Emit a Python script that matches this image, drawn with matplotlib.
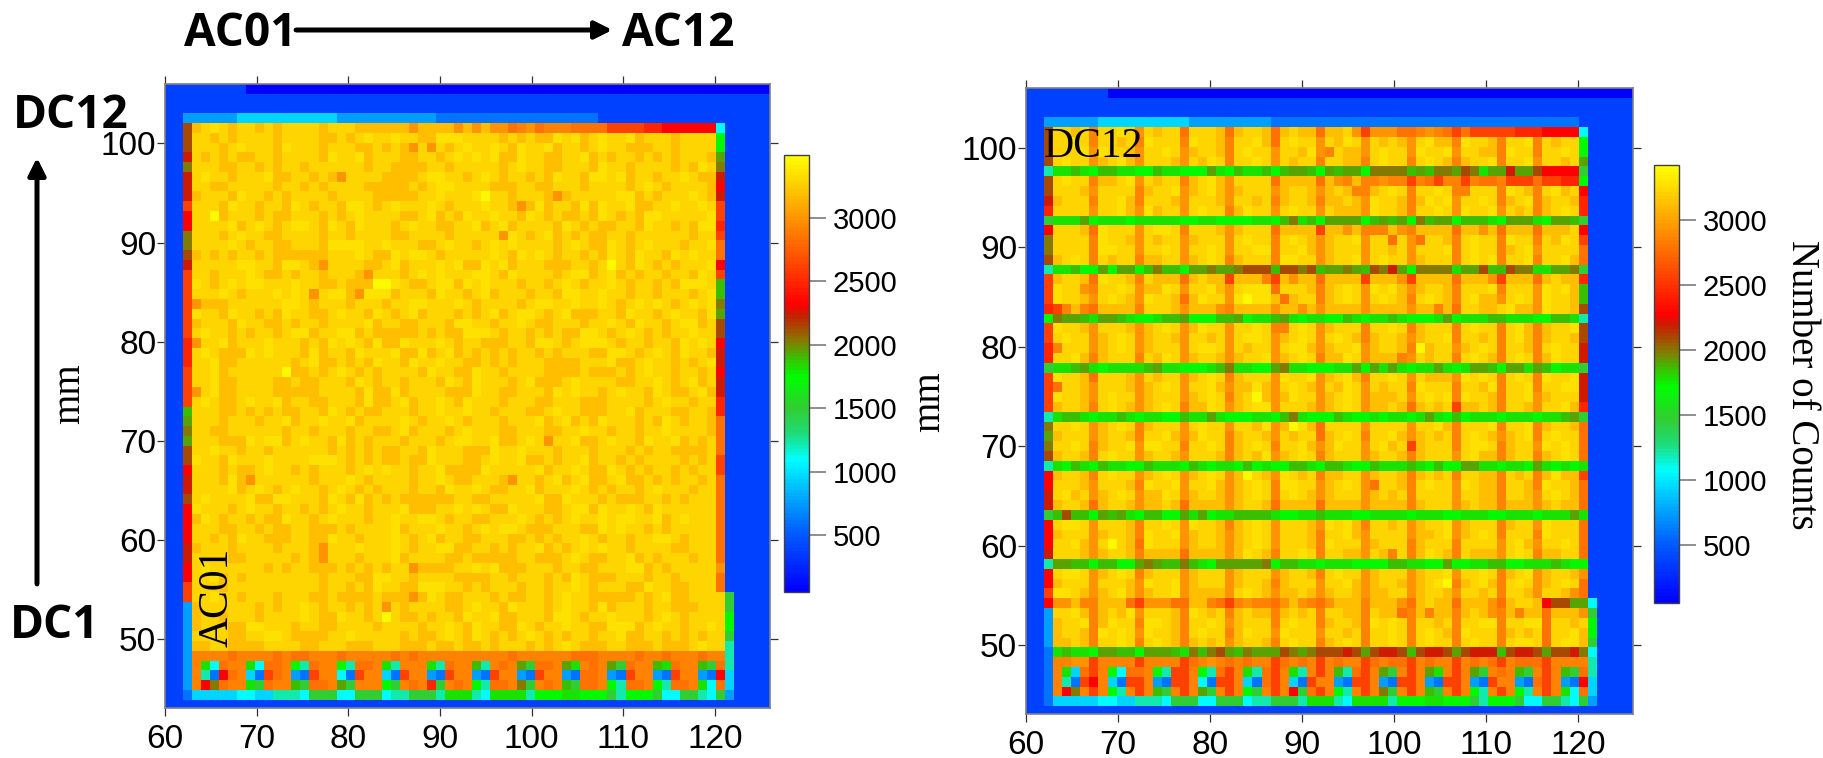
import numpy as np
import matplotlib
matplotlib.use('Agg')
import matplotlib.pyplot as plt
from matplotlib.colors import LinearSegmentedColormap, Normalize
from matplotlib.cm import ScalarMappable

# Colour bar stops (counts, rgb)
stop_counts = [55, 500, 800, 1094, 1300, 1500, 1750, 1900, 2020, 2150, 2240, 2328, 3000, 3496]
stop_colors = [(0, 0, 255), (0, 90, 255), (0, 170, 255), (0, 255, 255), (30, 220, 120), (50, 205, 50),
               (0, 255, 0), (60, 190, 0), (128, 128, 0), (170, 70, 0), (200, 30, 0), (255, 0, 0),
               (255, 147, 0), (255, 255, 0)]

left_vmax = 3496
right_vmax = 3425
cbar_ticks = [500, 1000, 1500, 2000, 2500, 3000]
x_ticks = [60, 70, 80, 90, 100, 110, 120]
y_ticks = [50, 60, 70, 80, 90, 100]

# Each letter in the map rows stands for a count level, estimated by eye from the cell colour
level_codes = ['.', 'a', 'b', 'c', 'd', 'e', 'u', 'f', 'g', 'h', 'i', 'v', 'G', 'j', 'k', 'l', 'm',
               'w', 'n', 'o', 'x', 'p', 'q', 'r', 's', 't']
left_levels = [60, 300, 380, 600, 780, 950, 1094, 1220, 1500, 1750, 1810, 1890, 1960, 2020, 2150, 2240, 2328,
               2475, 2620, 2840, 2920, 2990, 3180, 3285, 3360, 3460]
right_levels = [60, 295, 374, 590, 765, 931, 1072, 1196, 1470, 1715, 1774, 1852, 1921, 1980, 2107, 2195, 2281,
                2425, 2567, 2783, 2861, 2930, 3116, 3219, 3292, 3390]

left_rows = [
    "bbbbbbbbb ..... ..... ..... ..... ..... ..... ..... ..... ..... ..... ...... ..",
    "bb",
    "bb",
    "bb dddddd eeeeeeeeeee ddddddddddd cccccccccccccccccc",
    "bbk qrsrq rrqrq rrrrq rrrqq qqqqp qqqqp qpqpp oxpox xxooo onnnn wwmm mmmm u",
    "bbk rrqrq rrrrq rrrrq qrqrs rrsrr qqsss rrrrq rqrqq srsqr srrsq rrrq rrrr h",
    "bbk rrrqr srrrq srrrq rrrqq rqrqp rprqr srrsr qsrrs qrrqr srrqq qrrq rrrr h",
    "bbl rqrqr qqrrq rrrrq srrsq rrrqq rrqrs rsrsq qsrrq qrrsq rqrrq rqrq rrrq G",
    "bbj rrrqq rrqrq rrqrr rrrrq rrqqq qrrqr rrrrq rsrrq qrrrq srrqr rrrq rqsr j",
    "bbl rsrrq rrrsq qrrqr qprrr rqqqq rssrr qrsrq rrqrq srrqs srsqr rqrr srqq l",
    "bbl rrqqr rrrrq rrqrq rrrrq qqqqr qrssr rrrqq qrrqq rrrqr rrrqr srqr rrrq m",
    "bbl qrrrq srrqr qrrrr qrrrr qqqqq rrsrr rstrr qrrrq pqrrr rrssq rqrr rsrq l",
    "bbn rrrqs rrqrr qsrqr rqssr qrsrr rsrqr rrsrr qpqsq rrqsq srrsq qrrs rrsr n",
    "bbm rrtqr rrqrq qrrrq rqrsr rrrqq rsqrq srrsr rqsrq rqqrq srqrq ssrr rrrs n",
    "bbm rrrrs qrsrq rssrq srqsr rrqrs rrqqr rsqrs qrrrr qsrqr qqrrq srrq rqss w",
    "bbj rrrqr srrqq rrrrq rrqrr rrqqr rrrqr rrrrp srqrs qrqrq qrrqr rrrr rqrr n",
    "bbj rrrrs rqrrq qrrrq ssssr rsrrr qqrsr rqrsr srrrr qrsrq qsrqr srrr qrrs o",
    "bbk qrqrq rrqrq qqqqq rrrsr qqsrs srqrr rrrsr qsrsr qrrqr qsrqs rrqs rsrr o",
    "bbl rrrrr ssrrq ssrqp rrrrq qrsqr rrsrs qqsrs qrrrq qqrrq rtrqs rqrq rrrs m",
    "bbn rrqrr rsrqq rqrrq rrrqp rrrqr srsrr rssrq srrrr qrssq rsqrq rrqr rqsr n",
    "bbn srqrs rssrr rsrrq qrqqq ttsrq qrssq srsrr rqrrq rsrqr rsrqr rqrq sssr v",
    "bbn rrrsr qrrrs rsrpr ssqps ssqrr rqsrr qrsqr rrqrr qssrr srrqr rqrr rqrs v",
    "bbn pqqqr rrrrr ssrqr rrqrr rqrrs srrrs rqrrr rqrss rrsrr srqrs rsrq rsrs j",
    "bbn srrqs rrqrq srrqq rsrrq srqrs qrrrq rqrsq rssrq rsqqq rrqsr rqrs rrqs G",
    "bbn qrrrq srrqq rqrrq rrrrs qrrqq rrrqs srrqr rsrqq rrrqr rsrqs rrqr ssqr k",
    "bbn rsrrq rqrrq rssqr rssqr qqqqq rqrqq sssrq rrqrq rqqss rqrsr qrqr rsrr k",
    "bbw prrsq rrrsr rrqrq srsrq sqqsr rrsrq rrqqq rrqss rqrss srqrr qrrq srsr m",
    "bbw rsrqq qsrsr rrqsq rrqsr rrsqq sqrsq rqrqr qrrqr qrrrq qssrq rsrq srrq l",
    "bbw rrsqq rrrrr rqrsq qrqrq srrqs rrsrr qqrqr qrrrq qqqrr rsqqr srrq rqrs l",
    "bbn rrsqr rrrrr tqqrq rsrqr qrrrr qsrrq qsrrq rrrrq qqqrq qqrqr srrq rrqr m",
    "bbn rrsqq rrrrq qrqqr rrqsr qrrqr rrqsr qsrrr qrsqq qrsrr rrqqr rsrq rsqr l",
    "bbn prsqq rrrrq qqqqr rrrqs qqsqr rrrqq qsrrq qrrrq srsrr qrsrr qsrq qrsq l",
    "bbn rsrqq rsrrs qrrqq rrrqs qqrsq rrsrq srrrq rrrqq rrrqq qrrrr qrsr rqrr w",
    "bbv rrrqq rqrqr qqrrq srqrq qrrrq rrsrr srrqr rrqqr srrqq qrrsq rrrq qrrq w",
    "bbG rrrqr rrqrr sqrrs rrsqr rrrsr qrrsr qrrrq rrrsq rsqrq srrrq rqsr qrrq o",
    "bbj rrqqr rrrrr qrrqr rrqrr qqrsq rrrqr srrrq qrrrq qrrsr rqrrq rrsr rrrq o",
    "bbG rrrqq qsrss qrsrr qsqrq rrrqr rrqrs srrsq qrsrp rrsqq rsrrq srrs qrqr o",
    "bbk rrsrr qrrqr rrrrr qrqrq rqqrr qsrrr qqqsr rsrrr qrrrq rrrqr qrrq qqqr o",
    "bbk srrqs rrrsr rrrss srqrq rqqrq qsrrr qqrsr rsqqr qrrsq rrqrq rrrr qrqr n",
    "bbm rrrqr qqrsr rqrqr rrqrs rsrrq rrsqq qqsrr rrrsq rrsrq qsrqr qrrq rqrr n",
    "bbl rrrqs qprrr rrrqr rrsrq rrrrq rrsrq qrrrq prrqr sqrsq qrsqq rqrq rrqr o",
    "bbl rrrrs qrsrq rsrrq rsrqr qrrrq rrqsr rsrqq rrsqr rrsrq rqrrq rsrr rqrr o",
    "bbk rsrrr rsqqs srrrq srqsq rqrqq qqqqr rqqrr rrrsq qsrrr qrqqq rrqr qrrr o",
    "bbm srrrq rsrrq rrqrq rsrrq rrrsq qqrrs rsrqq srrrq qrssq srrsr qsrr rrrr o",
    "bbm qsrqr rqrqq srrqr srrrq rrsrr ssrqr rqqrr rsrqr qrsrr srssr rsqr srrr o",
    "bbm rrrqq rrqrq qrrqq qrqrr rrsqr rrsrr qrsrs srqqq rrrqq srsrr qrqr rrrr o",
    "bbm rrqrq srrqq qrrqq srrqr rrsrq rsqrr qqrrr qqrqr qrrsr qrrqr rssr qrrr o",
    "bbl qrrrq rrrrq rrrqp rrrsr rrsrq rrssq qrrqr qrrsq rqrsr srrqr rrrq qrrr o",
    "bbl rrrrq qrrrr rqrqp rrrqr rrsqr rrrqq rqqqq qrrqq qrsrq qrrsq rqrr rqrr o",
    "bbm rsrrr rrrqr qrrqq qrqrq rqrrp qqqqr rsrsq qqrrr qrrqq rrrss qrqr rrrr p",
    "bbm rrsqr qrrrr rrrrq rrrqq ssrrq rrrrq qqqrr qrrrq rqsrq qqrrr qrrq rrrr o",
    "bbn rrrqr rrrrr rrrrq rrqrq srrqq sssrr qrqrr rqrrq rrsrq rrrqq srrq qrrr o",
    "bbn rrsrr qrrrq rrrqq rqqqq rqqqp qsrqq rrrqr qqrrq rsrrq qqqqr qrsqq rrrr g",
    "bbd qrrrr rrqrq rrsrq rrqrq rprqr rrrqq rsrrq srrrq rsrrq sqrrr qrrqq qrrr g",
    "bbd qrrqr rrqrr rrsrq qsrrq rtrqq rqrrq srrsq qrrrq ssrqr rsrrr qrsrq rrrr h",
    "bbd qrrrq qssrr rqrrq qrrrr qrrrr qrrsr qsrrq qsrqr rsrrq qsssq rsrrq rrsr h",
    "bbd rrrrq qrrss rqqqq rrsrr rrrqr qqrsr qsrqr qrsrq rqrrq rrsqq rrqrq rqrr g",
    "bbd qqrrq qqqrr rrqqr rrqqq rrrqq qrqqr qqrqr rrqrq rsrqq qrrqq qrqqq rsrr f",
    "bbd xxxxo xxxxo xooxx xoxxx xxoxo xxxxx xxxxx oxxxx xxooo xxxxo xxoxx xoxx f",
    "bbd xiuox xiuoo xhfox xhfoo xifxx xifox xvfxo xGgoo xGixo xGgox xviox xvgo f",
    "bbd xfcmo xecno xdcnx xucnx xecnx xdcnx xdcnx xdcnx xdcoo xdcnx xdcnx xdcm e",
    "bbd xmjox xigox xvgoo xGgxx xhgxo xwgxo xhfoo xjgxo xvgoo xhfoo xhfoo xiuo e",
    "bbc eeeee uueef ffugg guugg guffg ggfii ifuii iifhh hiihh hgfhh hguug gfug d",
    "bb",
]

right_rows = [
    "bbbbbbbbb ..... ..... ..... ..... ..... ..... ..... ..... ..... ..... ...... ..",
    "bb",
    "bb",
    "bb dddddd eeeeeeeeee ddddddddd cccccccccccccccccccccccccccccccccc",
    "bbk rrqrx rrsrp rqrro rrrqo qrrqo qrqqo qqrpn pppoo xpxon onnnn nwww mmmm u",
    "bbk rrsrx rrqrx srrrx srrqx rrsqo rsrrp rqsrp rqrqp rsqqx srrqx rrsx rqrr h",
    "bbk rrrsp srrqp rrsrp qrrqx rsrrp rrqsp xrqqp rsrrp srrsp rrqqx srrx rrsr h",
    "bbk rsrrp qrsqp rrrqp rqsrx rrsrp rqrrx rrqqx rsrrx rsrqx qrrsx rrsp rrqr G",
    "bbf iivih vviih hviih hhGih viivh vGGvh GvGGh jjjjv GvjjG kjiGG lGGk mmmm g",
    "bbk rsrrx qqrsp rqrrx qrsqp rrrro qqqqo qpxqx xpxxn xonxx nxoox nnno nnww h",
    "bbk rrrqp rrrrx qrrsp qrsqp qrrrp qrrqp qrqxx qrsrx rrsrx xrrrx srqx rsqr m",
    "bbl qrrrx rrsqx rrrqp rrrqp rrqrx qrrqx qqrqp srrqx qsrsp rrsrx qrsx qrrq w",
    "bbw rrrrp rrsqp sqrrp rsrrx qsrrp rsrrp rqqqp srrqx rrsrp srrsp rqrx qrsr w",
    "bbg iiiGh iiihi iiiih hiihh hhiih vjivh GGGGh vGvGh jvGGh vvvih GGGi hGGv g",
    "bbm rrrqo srrrp rssrx rrrqp qrrro qqqqn qqpqx xxqpx qqqqo qqpqo qqqo qqqr m",
    "bbj rrrrx srrqp rqrrp qrrrp rsrrx rsrqp qrrsp rrorp orrqx rsrrx srrx rqsr n",
    "bbj rrrrx ssrrp rrsrp rrsrp rrssx rrsqp qrrrp rrqrp rrrsx rsrrx qrsp rrrr o",
    "bbk qrsrx rqrrx qqrrp qrsrx qrrrx ssrrp qrrsp rsrrp qrrrx rsrsx rrsx rrsq o",
    "bbf iivhh GhGGh vjvvh GGjGG jkkkv kkjkv GGjGv kjlGh jjjji GGkvv kjji iGGj g",
    "bbn qrrqo srrqx rqqqo qrqqn qqqxn qpqqo qqqqn qqqpn qqqqo qqqpn qqqo qrqq w",
    "bbn srrpx rrsrp qqsrp rrsqp rssso rrrqx qrsrp srsqp qrrqx rrrsx rrrp srsq v",
    "bbn srrqp rsrqp srrqo qsrrp stssq oqrrx qrsrp rsrqx rsrqx rsqqp rsrp srrq v",
    "bbw nxqxo qqqqx rrrqp qqqpx qqqqp qqpqp qqqqp qqqqp qqxqo rrqqr sqqp srrq k",
    "bbh jGGvi GGvih hivvG hhhvv Ghiiv Gihii hhvih iivih hhiGh iiivv iiih hvvi f",
    "bbn srrqp rrrqp qrsrp qsrrp rrsrx xrsrp qrrrx rrsrx qrrrx rsrrx rsqx qrrs k",
    "bbn rsrrp qrsrp qrrqp rrqrp rssrp qrsrp rsrqx qrrqp qrrsx rrqrx rsqx qrrq k",
    "bbw xrrrp qrsrp qrrrp rssrp rqrrp rssqp qrrsp qrrqx tqrrp qrsrx rrqx rsrr l",
    "bbw rrsqx qrrrx rqsrp qrrqp qrrsp qrsrx qqsrp qqqxp rqrrx rsrqx rsrx qsrr l",
    "bbg iivGi hiiii vGiih hhivj iihhG jiihh hiiGh GiGih iiGih iGGvh GGiG vhii g",
    "bbn srrqo rrrqp rqrrp qrsrx qrrrp srrsp qrsqx rrsrp rqqqp srsrx rsrx srrs l",
    "bbn orrqp rrrqp qrsrp rrsqp qqsqp rsrqp rqsrp rqrrx srrrx rrqsx rrsx rrss l",
    "bbn srrqp rsrrp qrrrp qrsrx qrtqp qsrrp qrsrp qqqrp rsrsx srrqx rrsp qrrr l",
    "bbn qrrqx rsrqp qrsrx qqsrp qrssp rrrqp qrsrp qqrqo qrqrn qqrqx rrqp rrsq w",
    "bbf ivvih iivih iihhv iiGih hhiih vjihh hvihh ihiih iGihv hiiih iiih iivG g",
    "bbj rrsrp qrsrx qrrrp rsrrp rrqsp qtsqo rrrrp rrrrp rrsqx rrrsx rrsx qrrq o",
    "bbG qrrrp qrrqx rrsqp qsrrx qrrqp rqrro qrsrx rrsqp qrqrx rsrqp qrsx rsrr o",
    "bbj rrsrx qrrsp ssrrx rrsrx qrsrx rrsqp qsrrp rsqrn qrrrx rssrx qrrp srsr o",
    "bbk qrrqx rsrrp qrrqp rrrqx qrqsp qrsrx qrrrp qrrqx qrrrp rsqqx qrrx qrsr o",
    "bbf ihvih viihh viiih vihii hvhih hvvih vvihh viiiv ihvhh GGiih iihG ihih i",
    "bbm qrrqx rsrrp qrsrp qrsrp qtrqp srqrx qqrrp qrrqx qrqrx rrqqx rqrx qsqq n",
    "bbm rrrqp rrrqx srrsp rrsqp qrsrx ssrrp qrsrp orrqx rsrrp srqqx rrqx srrq o",
    "bbl rsqrp qrsrp qqsrp qrrqp qrsrx rsrqp qrrrp qrqrx rrrrp rrqqx rrqp rsrq o",
    "bbl qrrqo qrrqp qqrqo qqqqp qrrqo qqqqo qqqqp qqqqx qrrrp qrqqx qqqp qrqq o",
    "bbg vkvvh GvGih vvhhG iGhii vvvvi hhiiv iiihh iiiih iiihh iiihh iiih iiiG i",
    "bbm rssrp rrrqx rrsrp srrqx qrsrp rrrqp srsqx rrqrp qrrsp qrrrx qrrp srrr o",
    "bbm qrrrp qrrqx srrsp qrrqp qrsrp rrrqx rrsqp rrrrp qqrsp qrsrx rrrx srrr o",
    "bbm rrsqp rtrqo srrrp qrrqp qrsrp rrrqx srrrp qrrrx qrrrx rrrrp rsqp rrsr o",
    "bbl rrrqp qrrqx qqqqo qqqqp qsrqx rrsrx rrqqp rqxrx qsrqx rqqqp rsrx qqrr o",
    "bbf GGvvh vvhhG jGvvj vihGG GGGjh vviih iiihh hhvvi ihhGh hiivv hhii ivih h",
    "bbm rssrp qrsrx qrrrp qrrrp qrrrp qrrqx rsrrp qrrrp qrrsp rrsrx qrsp qrrq p",
    "bbm qrrrp rrrqp srrsp qrrrp qrrqx qrrrp rrsqp qrrqp qrstx qrsqx rsrp qrsr o",
    "bbn ssrqp qrsqp qrrsp qqqqp rsrqp qqrqp qrrqp qqrrp qrrqp rrqrx rrqp rrqp o",
    "bbm ppqxx qqqon pppoo qqxon xpxxo pqpxo pqqqx qqqpo qrqqo qqqpo qrrqm kkGG u",
    "bbd rrsqx qrqsp rrrqx srqrx qrqqx qrqrx rrqqx rqqox qxqqx qrqpx qxqqo qqqp g",
    "bbd qrrsx qsrrx ssrqx rrsrp qrrrx rsrrx qrrqx srsrx rrqrx rrssx rrsso rrqr h",
    "bbd qrrqx srsrp srrqx rsrrx qsrrp srrrp rrqrx rrsrx rsrqx srrrx qrqro rrsq h",
    "bbd qqrqx rrsrx rsrqx qrqrp qrrqx rsrrx qrsrx rrsrx rsrrx rsrrx rssro rssq g",
    "bbc iviih GGvvh GGGvi jvjkG vjGGG kjGjk kklkG kllkv kllkG klllv kllkG kklj u",
    "bbc xxppn xxxxn xxxxn oxpxo xoxxn oxoxn xoxxn oxoon xoxxn xoxon xooon xxxx f",
    "bbc xieon xhuoo xhfnn xhfon xifon xifxn xvfon xGgxn xGixn xGgxo xvgxn xvgo f",
    "bbc xfcnm xecnn xdcnn xucnn xecon xecnx xdcnn xdcnn xdcnn xdcnx xdcon xdcm e",
    "bbc xmjxn xhfxn xvgxn xGgxn xhgxn xmgon xhfxn xjgxn xvgxn xhfxn xhfxn xiuo e",
    "bbc eeeee uueef ffugg guugg guffg ggfii ifuii iifhh hiihh hgfhh hguug gfug d",
    "bb",
]

n_cols = 67
cell_w = 0.985
cell_h = 0.986
fig_w, fig_h = 1824, 758


def px_axes(x0, y0, x1, y1):
    # pixel box measured from the top left corner of the picture
    return [x0 / fig_w, 1 - y1 / fig_h, (x1 - x0) / fig_w, (y1 - y0) / fig_h]


def rows_to_counts(rows, levels):
    lookup = dict(zip(level_codes, levels))
    grid = []
    for row in rows:
        row = row.replace(' ', '').ljust(n_cols, 'b')[:n_cols]
        grid.append([lookup[c] for c in row])
    return np.array(grid, dtype=float)


def draw_map(box, rows, levels, vmax, ylim):
    ax = fig.add_axes(px_axes(*box))
    counts = rows_to_counts(rows, levels)
    extent = (60, 60 + n_cols * cell_w, 106 - len(rows) * cell_h, 106)
    ax.imshow(counts, cmap=cm, vmin=55, vmax=vmax, extent=extent, aspect='auto',
              origin='upper', interpolation='nearest')
    ax.set_xlim(60, 126)
    ax.set_ylim(*ylim)
    ax.set_xticks(x_ticks)
    ax.set_yticks(y_ticks)
    ax.tick_params(top=True, right=True, length=5.8, width=0.9, color='#303030', labelsize=24)
    ax.tick_params(axis='x', pad=6)
    ax.tick_params(axis='y', pad=0.5)
    for label in ax.get_xticklabels() + ax.get_yticklabels():
        label.set_family('Liberation Sans')
    for spine in ax.spines.values():
        spine.set_color('#808080')
        spine.set_linewidth(1.2)
    return ax


def draw_cbar(box, vmax):
    cax = fig.add_axes(px_axes(*box))
    sm = ScalarMappable(norm=Normalize(55, vmax), cmap=cm)
    sm.set_array([])
    cbar = fig.colorbar(sm, cax=cax, ticks=cbar_ticks)
    cbar.ax.tick_params(length=12, width=1.1, color='#707070', labelsize=21, pad=5)
    for label in cbar.ax.get_yticklabels():
        label.set_family('Liberation Sans')
    cbar.outline.set_edgecolor('#404040')
    cbar.outline.set_linewidth(1.0)


def fig_text(x, y, s, **kw):
    fig.text(x / fig_w, 1 - y / fig_h, s, ha='center', va='center', **kw)


def arrow(x0, y0, x1, y1):
    fig.add_artist(plt.annotate('', xy=(x1 / fig_w, 1 - y1 / fig_h), xytext=(x0 / fig_w, 1 - y0 / fig_h),
                                xycoords='figure fraction', textcoords='figure fraction',
                                arrowprops=dict(arrowstyle='-|>', color='black', lw=3.3,
                                                mutation_scale=26, shrinkA=0, shrinkB=0)))


# Colormap from the stops above
pos = [(c - stop_counts[0]) / (stop_counts[-1] - stop_counts[0]) for c in stop_counts]
cols = [(r / 255, g / 255, b / 255) for r, g, b in stop_colors]
cm = LinearSegmentedColormap.from_list('counts', list(zip(pos, cols)), N=128)

fig = plt.figure(figsize=(fig_w / 100, fig_h / 100), dpi=100, facecolor='white')

draw_map((165, 84, 770, 708), left_rows, left_levels, left_vmax, (43.05, 106))
draw_map((1026, 88, 1633, 714), right_rows, right_levels, right_vmax, (43.1, 106))

draw_cbar((784, 155, 809, 592), left_vmax)
draw_cbar((1654, 165, 1679, 603), right_vmax)

# Labels around the panels
bold = dict(family='Open Sans', fontweight='bold', fontsize=33, color='black')
serif = dict(family='Liberation Serif', color='black')
fig_text(240, 33, 'AC01', **bold)
fig_text(678, 33, 'AC12', **bold)
fig_text(71, 116, 'DC12', **bold)
fig_text(55, 626, 'DC1', **bold)
fig_text(70, 394, 'mm', rotation=90, fontsize=28, **serif)
fig_text(930, 402, 'mm', rotation=90, fontsize=28, **serif)
fig_text(1802, 385, 'Number of Counts', rotation=270, fontsize=28, **serif)
fig_text(217, 597, 'AC01', rotation=90, fontsize=30, **serif)
fig_text(1093, 147, 'DC12', fontsize=30, **serif)

arrow(296, 30, 612, 30)
arrow(37, 584, 37, 158)

fig.savefig('out.png', dpi=100)
plt.close(fig)
